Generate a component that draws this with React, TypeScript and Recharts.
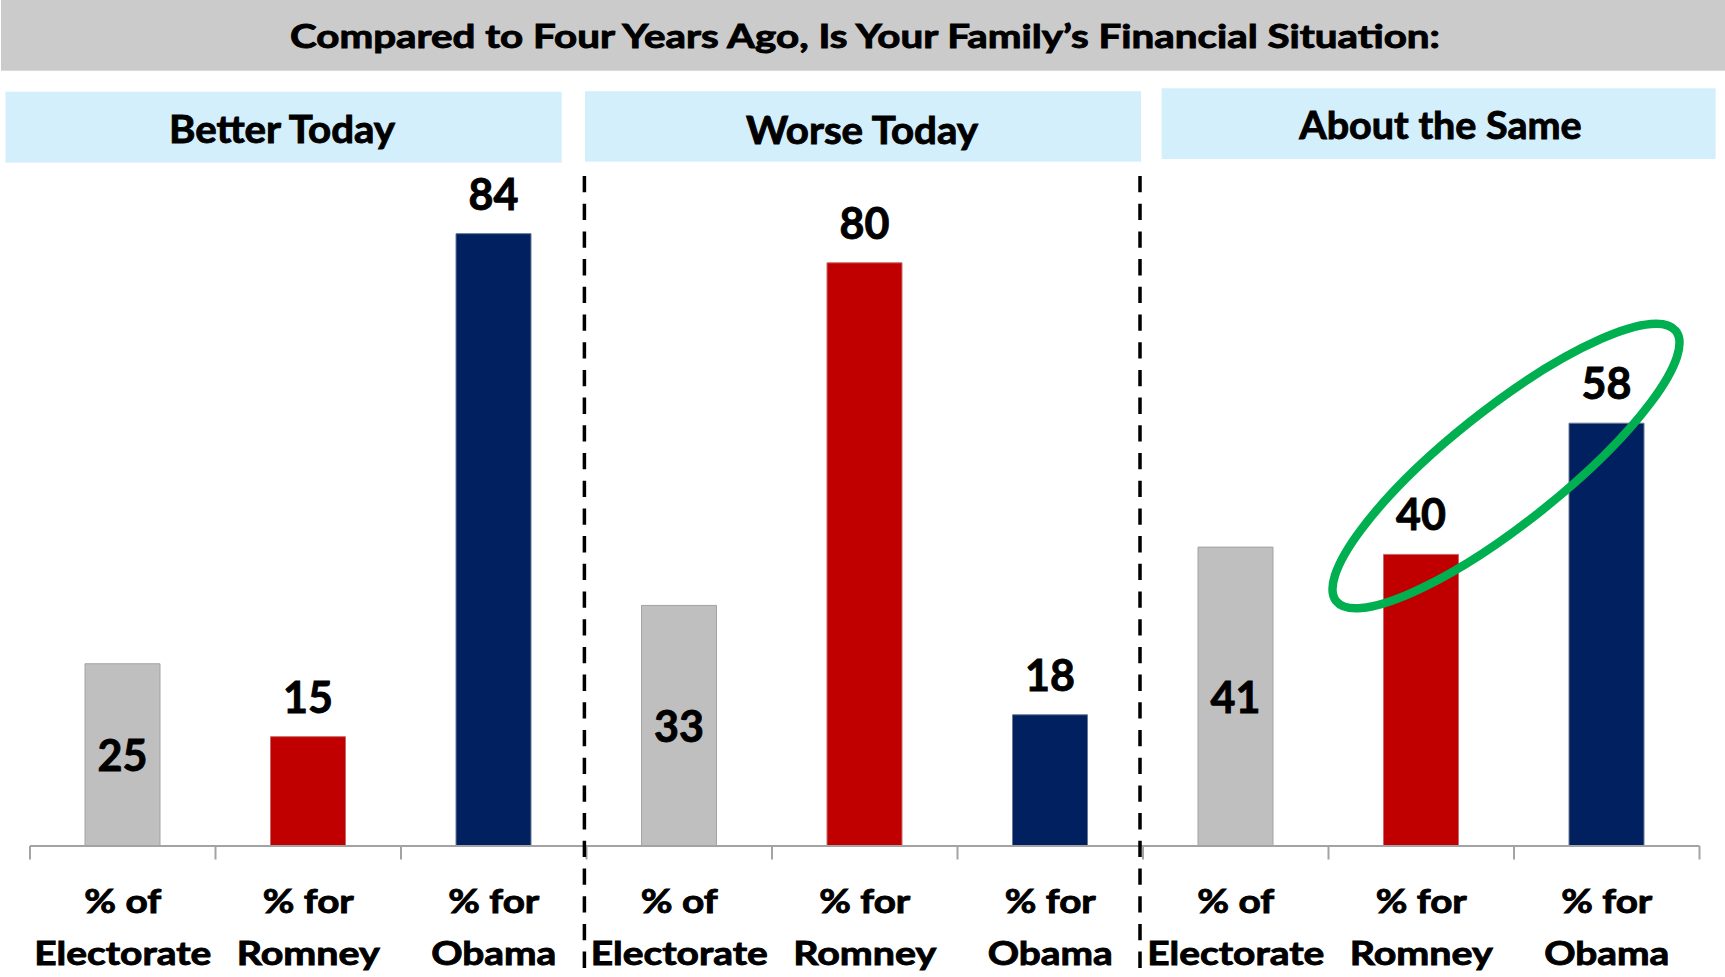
import React from 'react';
import { BarChart, Bar, XAxis, YAxis, Cell, LabelList } from 'recharts';

// ---- data ----
const title = 'Compared to Four Years Ago, Is Your Family’s Financial Situation:';
const groups = ['Better Today', 'Worse Today', 'About the Same'];
const measures = ['% of Electorate', '% for Romney', '% for Obama'];
const betterToday = [25, 15, 84];
const worseToday = [33, 80, 18];
const aboutTheSame = [41, 40, 58];

const groupValues = [betterToday, worseToday, aboutTheSame];
const data = groups.flatMap((g, gi) =>
  measures.map((m, mi) => ({ key: `${gi}-${mi}`, group: g, measure: m, kind: mi, value: groupValues[gi][mi] }))
);

// ---- layout / style ----
const W = 1725;
const H = 977;
const M = { top: 117, right: 25.5, bottom: 0, left: 30 };
const AXIS_H = 131;
const AXIS_Y = H - AXIS_H;
const BAND = (W - M.left - M.right) / data.length;
const FONT = 'Lato, "Open Sans", sans-serif';
const FILL = ['#BFBFBF', '#C00000', '#002060'];
const STROKE = ['#A3A3A3', '#C86A6A', '#6B7894'];
const AXIS_COLOR = '#A3A3A3';
const TEXT_STROKE = 0.9;

const wordWidth: Record<string, number> = {
  '% of': 77,
  '% for': 91,
  Electorate: 177,
  Romney: 143,
  Obama: 125,
};

const headerBoxes = [
  { x: 5.5, y: 91.7, w: 556.2, h: 71, ty: 143.3, tw: 226, cx: 282 },
  { x: 585, y: 91.2, w: 556, h: 70.5, ty: 143.5, tw: 232, cx: 862 },
  { x: 1161.6, y: 88.3, w: 554, h: 70.7, ty: 139, tw: 282.4, cx: 1440.5 },
];

const CategoryTick = (props: any) => {
  const { x, index, payload } = props;
  const row = data.find((d) => d.key === payload?.value) ?? data[index];
  const label = row.measure;
  const cut = label.lastIndexOf(' ');
  const l1 = label.slice(0, cut);
  const l2 = label.slice(cut + 1);
  const left = x - BAND / 2;
  const right = x + BAND / 2;
  const isLast = row.key === data[data.length - 1].key;
  const textStyle = { fontFamily: FONT, fontWeight: 700, fontSize: 33, fill: '#000', stroke: '#000', strokeWidth: TEXT_STROKE } as any;
  return (
    <g>
      <line x1={left} x2={left} y1={AXIS_Y} y2={AXIS_Y + 13.5} stroke={AXIS_COLOR} strokeWidth={2} />
      {isLast && <line x1={right} x2={right} y1={AXIS_Y} y2={AXIS_Y + 13.5} stroke={AXIS_COLOR} strokeWidth={2} />}
      <text x={x} y={913.3} textAnchor="middle" textLength={wordWidth[l1]} lengthAdjust="spacingAndGlyphs" style={textStyle}>
        {l1}
      </text>
      <text x={x} y={965} textAnchor="middle" textLength={wordWidth[l2]} lengthAdjust="spacingAndGlyphs" style={textStyle}>
        {l2}
      </text>
    </g>
  );
};

const ValueLabel = (props: any) => {
  const vb = props.viewBox || {};
  const x = Number(props.x ?? vb.x);
  const y = Number(props.y ?? vb.y);
  const width = Number(props.width ?? vb.width);
  const height = Number(props.height ?? vb.height);
  const idx = props.index;
  const row = data[idx];
  const cx = x + width / 2;
  const top = Math.min(y, y + height);
  const inside = row && row.kind === 0;
  const ty = inside ? top + Math.abs(height) / 2 + 16.5 : top - 24;
  return (
    <text
      x={cx}
      y={ty}
      textAnchor="middle"
      style={{ fontFamily: FONT, fontWeight: 700, fontSize: 43, fill: '#000', stroke: '#000', strokeWidth: TEXT_STROKE }}
    >
      {props.value}
    </text>
  );
};

export default function App() {
  return (
    <div style={{ position: 'absolute', left: 0, top: 0, width: W, height: H, background: '#fff', overflow: 'hidden' }}>
      <BarChart width={W} height={H} data={data} margin={M}>
        <YAxis hide domain={[0, 100]} />
        <XAxis
          dataKey="key"
          height={AXIS_H}
          interval={0}
          tickLine={false}
          axisLine={{ stroke: AXIS_COLOR, strokeWidth: 2 }}
          tick={<CategoryTick />}
        />
        <Bar dataKey="value" barSize={75} isAnimationActive={false}>
          {data.map((d) => (
            <Cell key={d.key} fill={FILL[d.kind]} stroke={STROKE[d.kind]} strokeWidth={1} />
          ))}
          <LabelList dataKey="value" content={<ValueLabel />} />
        </Bar>
      </BarChart>
      <svg width={W} height={H} style={{ position: 'absolute', left: 0, top: 0, pointerEvents: 'none' }}>
        <rect x={1} y={0} width={W - 1} height={70.7} fill="#CBCBCB" />
        <text
          x={865}
          y={48.3}
          textAnchor="middle"
          textLength={1150}
          lengthAdjust="spacingAndGlyphs"
          style={{ fontFamily: FONT, fontWeight: 700, fontSize: 31.5, fill: '#000', stroke: '#000', strokeWidth: TEXT_STROKE }}
        >
          {title}
        </text>
        {groups.map((g, i) => {
          const b = headerBoxes[i];
          return (
            <g key={g}>
              <rect x={b.x} y={b.y} width={b.w} height={b.h} fill="#D4EFFC" />
              <text
                x={b.cx}
                y={b.ty}
                textAnchor="middle"
                textLength={b.tw}
                lengthAdjust="spacingAndGlyphs"
                style={{ fontFamily: FONT, fontWeight: 700, fontSize: 38, fill: '#000', stroke: '#000', strokeWidth: TEXT_STROKE }}
              >
                {g}
              </text>
            </g>
          );
        })}
        {[584.4, 1140].map((x) => (
          <line key={x} x1={x} x2={x} y1={176} y2={H} stroke="#000" strokeWidth={3.5} strokeDasharray="16.3 11.4" />
        ))}
        <ellipse
          cx={1506}
          cy={466}
          rx={217}
          ry={57}
          transform="rotate(-38.5 1506 466)"
          fill="none"
          stroke="#00B050"
          strokeWidth={8.5}
        />
      </svg>
    </div>
  );
}
